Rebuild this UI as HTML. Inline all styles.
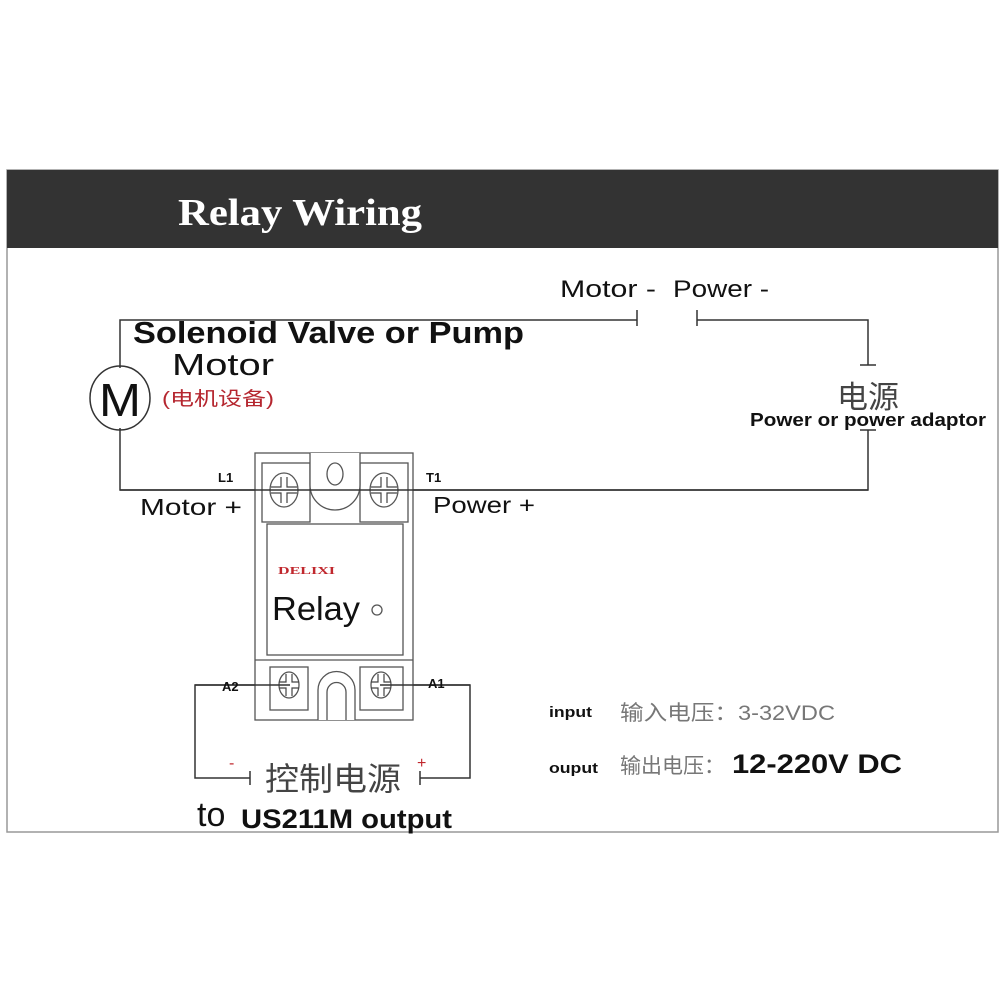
<!DOCTYPE html>
<html><head><meta charset="utf-8"><style>
html,body{margin:0;padding:0;background:#fff;width:1000px;height:1000px;overflow:hidden}
svg{display:block}
text{font-family:"Liberation Sans","Noto Sans CJK SC",sans-serif}
</style></head><body>
<svg width="1000" height="1000" viewBox="0 0 1000 1000">
<rect x="7" y="170" width="991" height="662" fill="#fff" stroke="#999" stroke-width="1.5"/>
<rect x="7" y="170" width="991" height="78" fill="#333"/>
<text x="178" y="225" font-size="38" font-weight="bold" fill="#fff" textLength="244" lengthAdjust="spacingAndGlyphs" style="font-family:'Liberation Serif',serif">Relay Wiring</text>

<g stroke="#333" stroke-width="1.5" fill="none">
<polyline points="637,320 120,320 120,368"/>
<line x1="637" y1="310" x2="637" y2="326"/>
<line x1="697" y1="310" x2="697" y2="326"/>
<polyline points="697,320 868,320 868,365"/>
<line x1="860" y1="365" x2="876" y2="365"/>
<line x1="860" y1="430" x2="876" y2="430"/>
<polyline points="868,430 868,490 120,490 120,428"/>
<ellipse cx="120" cy="398" rx="30" ry="32"/>
<polyline points="290,685 195,685 195,778 250,778"/>
<line x1="250" y1="771" x2="250" y2="785"/>
<polyline points="380,685 470,685 470,778 420,778"/>
<line x1="420" y1="771" x2="420" y2="785"/>
</g>

<g stroke="#555" stroke-width="1.3" fill="#fff">
<rect x="255" y="453" width="158" height="267"/>
<rect x="262" y="463" width="48" height="59"/>
<rect x="360" y="463" width="48" height="59"/>
<path d="M310,453 L310,485 A25,25 0 0 0 360,485 L360,453" />
<ellipse cx="335" cy="474" rx="8" ry="11"/>
<rect x="267" y="524" width="136" height="131"/>
<line x1="255" y1="660" x2="413" y2="660"/>
<rect x="270" y="667" width="38" height="43"/>
<rect x="360" y="667" width="43" height="43"/>
<path d="M318,720 L318,690 A18,18 0 0 1 355,690 L355,720"/>
<path d="M327,720 L327,692 A9,9 0 0 1 346,692 L346,720"/>
<ellipse cx="284" cy="490" rx="14" ry="17"/>
<ellipse cx="384" cy="490" rx="14" ry="17"/>
<ellipse cx="289" cy="685" rx="10" ry="13"/>
<ellipse cx="381" cy="685" rx="10" ry="13"/>
<circle cx="377" cy="610" r="5"/>
</g>
<g stroke="#444" stroke-width="1.2" fill="none">
<path d="M281,477 v10 h-10 M287,477 v10 h10 M281,503 v-10 h-10 M287,503 v-10 h10"/>
<path d="M381,477 v10 h-10 M387,477 v10 h10 M381,503 v-10 h-10 M387,503 v-10 h10"/>
<path d="M286,674 v8 h-7 M292,674 v8 h7 M286,696 v-8 h-7 M292,696 v-8 h7"/>
<path d="M378,674 v8 h-7 M384,674 v8 h7 M378,696 v-8 h-7 M384,696 v-8 h7"/>
</g>
<line x1="120" y1="490" x2="868" y2="490" stroke="#333" stroke-width="1.5"/>
<line x1="195" y1="685" x2="290" y2="685" stroke="#333" stroke-width="1.5"/>
<line x1="380" y1="685" x2="470" y2="685" stroke="#333" stroke-width="1.5"/>

<text x="278" y="574" font-size="11" font-weight="bold" fill="#c0272d" textLength="57" lengthAdjust="spacingAndGlyphs" style="font-family:'Liberation Serif',serif">DELIXI</text>
<text x="272" y="620" font-size="33" fill="#111" textLength="88" lengthAdjust="spacingAndGlyphs">Relay</text>

<text x="560" y="297" font-size="24" fill="#111" textLength="96" lengthAdjust="spacingAndGlyphs">Motor -</text>
<text x="673" y="297" font-size="24" fill="#111" textLength="96" lengthAdjust="spacingAndGlyphs">Power -</text>
<text x="133" y="343" font-size="31" font-weight="bold" fill="#111" textLength="391" lengthAdjust="spacingAndGlyphs">Solenoid Valve or Pump</text>
<text x="172" y="375" font-size="31" fill="#111" textLength="102" lengthAdjust="spacingAndGlyphs">Motor</text>
<text x="99" y="416" font-size="46" fill="#111" textLength="42" lengthAdjust="spacingAndGlyphs">M</text>
<text x="162" y="405" font-size="19" fill="#b5262f" textLength="112" lengthAdjust="spacingAndGlyphs">(电机设备)</text>
<text x="837" y="408" font-size="31" fill="#444">电源</text>
<text x="750" y="426" font-size="18" font-weight="bold" fill="#111" textLength="236" lengthAdjust="spacingAndGlyphs">Power or power adaptor</text>
<text x="218" y="482" font-size="13" font-weight="bold" fill="#111">L1</text>
<text x="426" y="482" font-size="13" font-weight="bold" fill="#111">T1</text>
<text x="140" y="515" font-size="23" fill="#111" textLength="102" lengthAdjust="spacingAndGlyphs">Motor +</text>
<text x="433" y="513" font-size="23" fill="#111" textLength="102" lengthAdjust="spacingAndGlyphs">Power +</text>
<text x="222" y="691" font-size="13" font-weight="bold" fill="#111">A2</text>
<text x="428" y="688" font-size="13" font-weight="bold" fill="#111">A1</text>
<text x="229" y="768" font-size="16" fill="#c0272d">-</text>
<text x="417" y="768" font-size="16" fill="#c0272d">+</text>
<text x="265" y="790" font-size="32" fill="#444" textLength="136" lengthAdjust="spacingAndGlyphs">控制电源</text>
<text x="197" y="826" font-size="34" fill="#111">to</text>
<text x="241" y="828" font-size="27" font-weight="bold" fill="#111" textLength="211" lengthAdjust="spacingAndGlyphs">US211M output</text>
<text x="549" y="717" font-size="15" font-weight="bold" fill="#111" textLength="43" lengthAdjust="spacingAndGlyphs">input</text>
<text x="620" y="720" font-size="21" fill="#777" textLength="215" lengthAdjust="spacingAndGlyphs">输入电压：3-32VDC</text>
<text x="549" y="773" font-size="15" font-weight="bold" fill="#111" textLength="49" lengthAdjust="spacingAndGlyphs">ouput</text>
<text x="620" y="773" font-size="21" fill="#777" textLength="105" lengthAdjust="spacingAndGlyphs">输出电压：</text>
<text x="732" y="773" font-size="27" font-weight="bold" fill="#111" textLength="170" lengthAdjust="spacingAndGlyphs">12-220V DC</text>
</svg>
</body></html>
